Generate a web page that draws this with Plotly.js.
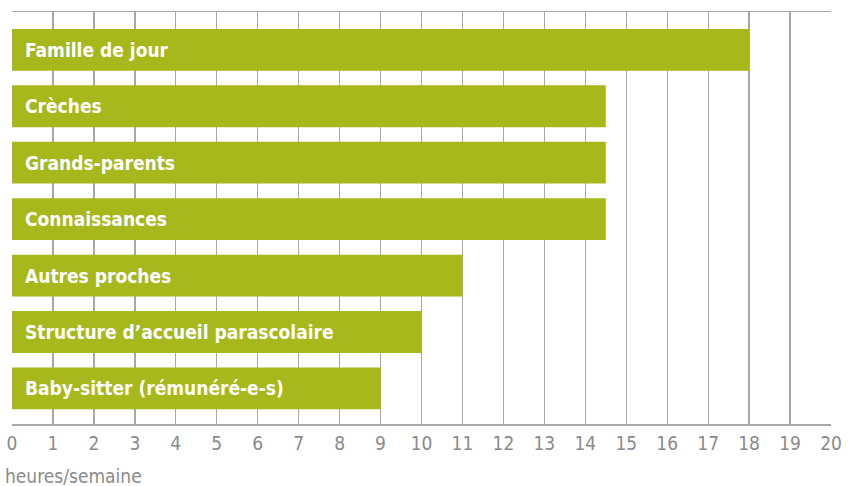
<!DOCTYPE html>
<html>
<head>
<meta charset="utf-8">
<script src="https://cdn.plot.ly/plotly-3.0.1.min.js"></script>
<style>html,body{margin:0;padding:0;background:#fff;}#chart{width:856px;height:486px;}</style>
</head>
<body>
<div id="chart"></div>
<script>
const categories = [
  "Famille de jour",
  "Crèches",
  "Grands-parents",
  "Connaissances",
  "Autres proches",
  "Structure d\u2019accueil parascolaire",
  "Baby-sitter (rémunéré-e-s)"
];
const hours = [18, 14.5, 14.5, 14.5, 11, 10, 9];
const tickValues = [0,1,2,3,4,5,6,7,8,9,10,11,12,13,14,15,16,17,18,19,20];
const axisTitle = "heures/semaine";

const condensed = '"DejaVu Sans Condensed", "Liberation Sans Narrow", sans-serif';

const trace = {
  type: 'bar',
  orientation: 'h',
  y: categories,
  x: hours,
  width: 0.74,
  marker: {color: '#a6b81b', line: {width: 0}},
  hoverinfo: 'none'
};

const annotations = categories.map((c) => ({
  x: 0, y: c, xref: 'x', yref: 'y',
  text: '<b>' + c + '</b>',
  showarrow: false, xanchor: 'left', yanchor: 'middle',
  xshift: 11,
  font: {family: condensed, size: 19, color: '#ffffff'}
}));
annotations.push({
  x: 0, y: 0, xref: 'paper', yref: 'paper',
  xanchor: 'left', yanchor: 'top',
  xshift: -9, yshift: -39,
  text: axisTitle, showarrow: false,
  font: {family: condensed, size: 19, color: '#8a8a8a'}
});

const layout = {
  width: 856, height: 486,
  margin: {l: 12, r: 25, t: 12, b: 62},
  paper_bgcolor: '#ffffff', plot_bgcolor: '#ffffff',
  showlegend: false,
  bargap: 0.26,
  xaxis: {
    range: [0, 20],
    tickvals: tickValues,
    ticktext: tickValues.map(String),
    showgrid: true, gridcolor: '#a8a8a8', gridwidth: 1.3,
    zeroline: false,
    showline: true, linecolor: '#a8a8a8', linewidth: 1.5, mirror: true,
    ticks: '', ticklabelstandoff: 2,
    tickfont: {family: condensed, size: 19, color: '#8a8a8a'},
    fixedrange: true
  },
  yaxis: {
    type: 'category',
    range: [6.63, -0.67],
    showticklabels: false,
    showgrid: false, zeroline: false,
    showline: false, ticks: '',
    fixedrange: true
  },
  annotations: annotations
};

Plotly.newPlot('chart', [trace], layout, {displayModeBar: false, staticPlot: true});
</script>
</body>
</html>
